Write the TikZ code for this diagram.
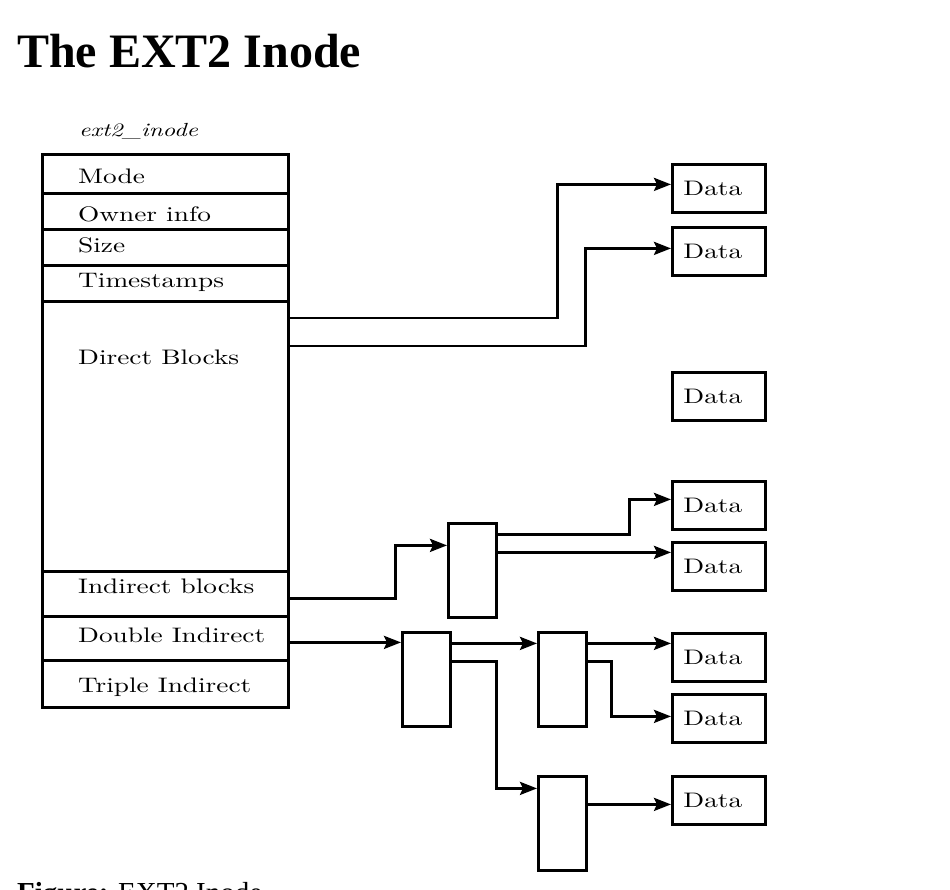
\documentclass[tikz,border=0pt]{standalone}
\usepackage{fontspec}
\usepackage{graphicx}
\usetikzlibrary{arrows.meta}
\newfontfamily\htmlfont{Liberation Serif}
\newfontfamily\cmten{lmroman10-regular.otf}
\newfontfamily\cmtenit{lmroman10-italic.otf}
\newcommand{\stretched}[1]{\scalebox{1.3}[1]{#1}}
\tikzset{
  box/.style={draw, line width=2.8pt, anchor=north west, inner sep=0pt},
  lbl/.style={anchor=base west, inner sep=0pt, font=\cmten\fontsize{21}{24}\selectfont},
  datab/.style={box, minimum width=93pt, minimum height=48pt, text width=71pt, align=left, inner xsep=11pt, font=\cmten\fontsize{21}{24}\selectfont},
  blk/.style={box, minimum width=48pt, minimum height=94pt},
  link/.style={line width=2.8pt, -{Stealth[length=17pt,width=13pt,inset=3pt]}},
}
\begin{document}
\begin{tikzpicture}[x=1pt,y=-1pt]
  \useasboundingbox (0,0) rectangle (950,890);
  \node[anchor=base west, inner sep=0pt] (title) at (17,68) {\htmlfont\fontsize{48}{56}\selectfont\bfseries The EXT2 Inode};
  \node[lbl, font=\cmtenit\fontsize{19}{22}\selectfont] (inode) at (79,137) {\stretched{ext2\_inode}};
  % inode fields
  \foreach \nm/\ya/\yb/\yl/\txt in {mode/153/192/184/Mode, owner/192/228/222/Owner info, size/228/264/253/Size, stamps/264/300/288/Timestamps, direct/300/570/365/Direct Blocks, ind/570/615/593/Indirect blocks, dbl/615/659/642/Double Indirect, tpl/659/706/692/Triple Indirect}
  {
    \node[box, minimum width=246pt, minimum height=\yb-\ya] (\nm) at (41,\ya) {};
    \node[lbl] (\nm-txt) at (78,\yl) {\stretched{\txt}};
  }
  % data blocks
  \foreach \nm/\ya in {data1/163, data2/226, data3/371, data4/480, data5/541, data6/632, data7/693, data8/775}
    \node[datab] (\nm) at (671,\ya) {\stretched{Data}};
  % indirect blocks
  \node[blk] (ind1) at (447,522) {};
  \node[blk] (dbl1) at (401,631) {};
  \node[blk] (dbl2a) at (537,631) {};
  \node[blk] (dbl2b) at (537,775) {};
  % connectors
  \draw[link] ([yshift=-18pt]direct.north east) -- ++(268,0) |- ([yshift=4pt]data1.west);
  \draw[link] ([yshift=-46pt]direct.north east) -- ++(296,0) |- ([yshift=3pt]data2.west);
  \draw[link] ([yshift=-4.5pt]ind.east) -- ++(106,0) |- ([yshift=25pt]ind1.west);
  \draw[link] ([yshift=36pt]ind1.east) -- ++(132,0) |- ([yshift=6pt]data4.west);
  \draw[link] ([yshift=18pt]ind1.east) -- ([yshift=18pt]ind1.east -| data5.west);
  \draw[link] ([yshift=-4pt]dbl.east) -- ([yshift=-4pt]dbl.east -| dbl1.west);
  \draw[link] ([yshift=36pt]dbl1.east) -- ([yshift=36pt]dbl1.east -| dbl2a.west);
  \draw[link] ([yshift=18pt]dbl1.east) -- ++(45,0) |- ([yshift=35pt]dbl2b.west);
  \draw[link] ([yshift=36pt]dbl2a.east) -- ([yshift=36pt]dbl2a.east -| data6.west);
  \draw[link] ([yshift=18pt]dbl2a.east) -- ++(24,0) |- ([yshift=2pt]data7.west);
  \draw[link] ([yshift=19pt]dbl2b.east) -- ([yshift=19pt]dbl2b.east -| data8.west);
  \node[anchor=base west, inner sep=0pt] (caption) at (17,902) {\htmlfont\fontsize{29}{34}\selectfont\textbf{Figure:} EXT2 Inode};
\end{tikzpicture}
\end{document}
